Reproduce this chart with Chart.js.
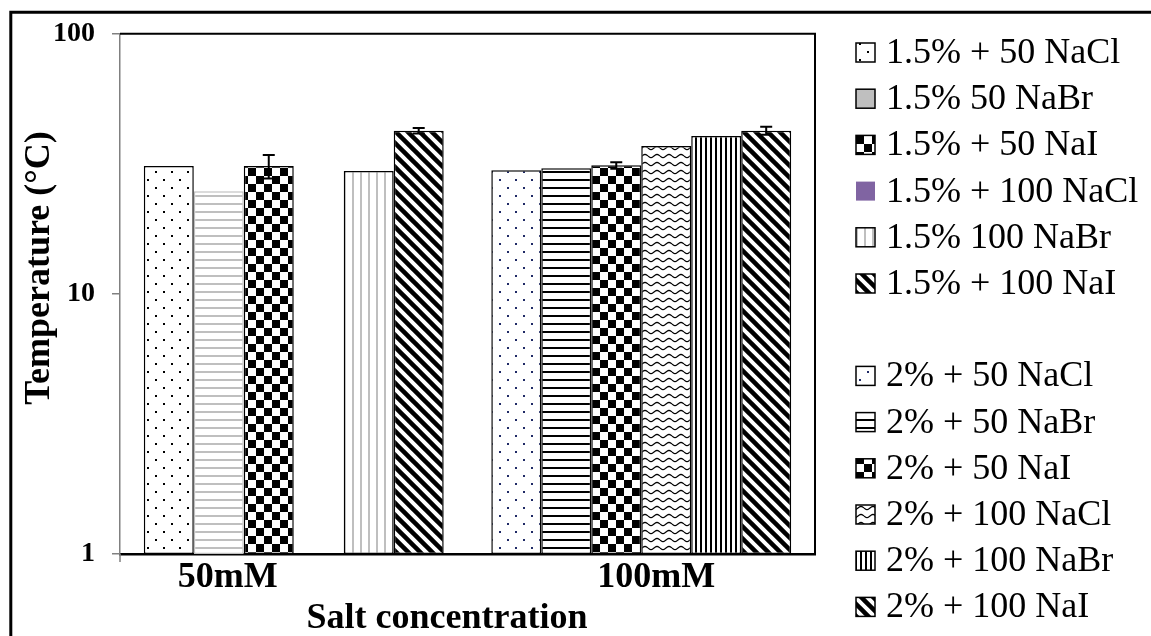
<!DOCTYPE html>
<html>
<head>
<meta charset="utf-8">
<script src="https://cdn.jsdelivr.net/npm/chart.js@4.4.1/dist/chart.umd.min.js"></script>
<style>
  html, body { margin: 0; padding: 0; background: #fff; }
</style>
</head>
<body>
<canvas id="chart" width="1151" height="636"></canvas>
<script>
// Melting temperature by salt concentration (log axis)
const categories = ['50mM', '100mM'];
const seriesNames = [
  '1.5% + 50 NaCl', '1.5% 50 NaBr', '1.5% + 50 NaI',
  '1.5% + 100 NaCl', '1.5% 100 NaBr', '1.5% + 100 NaI',
  '2% + 50 NaCl', '2% + 50 NaBr', '2% + 50 NaI',
  '2% + 100 NaCl', '2% + 100 NaBr', '2% + 100 NaI'
];
// 1.5% series sit in the 50mM group, 2% series in the 100mM group
const temp15 = [31.0, 24.8, 31.0, null, 29.7, 42.4];
const err15 = [0, 0, 3.2, 0, 0, 1.0];
const temp2 = [29.9, 30.4, 31.2, 37.0, 40.5, 42.4];
const err2 = [0, 0, 0.9, 0, 0, 1.5];
const yTicks = [1, 10, 100];
const xTitle = 'Salt concentration';
const yTitle = 'Temperature (°C)';

const SERIF = "'Liberation Serif', 'Times New Roman', serif";

function tile(w, h, draw) {
  const c = document.createElement('canvas');
  c.width = w; c.height = h;
  const g = c.getContext('2d');
  g.fillStyle = '#fff';
  g.fillRect(0, 0, w, h);
  draw(g);
  return g.createPattern(c, 'repeat');
}

const dots = (color) => tile(16, 16, g => {
  g.fillStyle = color;
  g.fillRect(3, 3, 2, 2);
  g.fillRect(11, 11, 2, 2);
});
const hLines = (color) => tile(8, 8, g => {
  g.fillStyle = color;
  g.fillRect(0, 3, 8, 2);
});
const vLines = (color, period, width) => tile(period, 8, g => {
  g.fillStyle = color;
  g.fillRect(0, 0, width, 8);
});
const checker = () => tile(16, 16, g => {
  g.fillStyle = '#000';
  g.fillRect(0, 0, 8, 8);
  g.fillRect(8, 8, 8, 8);
});
const diagonal = () => tile(12, 12, g => {
  g.strokeStyle = '#000';
  g.lineWidth = 4.5;
  g.lineCap = 'square';
  for (let k = -1; k <= 1; k++) {
    g.beginPath();
    g.moveTo(k * 12, 0);
    g.lineTo(k * 12 + 12, 12);
    g.stroke();
  }
});
const wave = () => tile(12, 8, g => {
  g.strokeStyle = '#000';
  g.lineWidth = 1.2;
  g.beginPath();
  for (let x = 0; x <= 12; x++) {
    const y = 4 + 1.6 * Math.sin(x / 12 * Math.PI * 2);
    if (x === 0) g.moveTo(x, y); else g.lineTo(x, y);
  }
  g.stroke();
});

const fills = [
  dots('#000'), hLines('#bfbfbf'), checker(),
  '#8064a2', vLines('#bfbfbf', 8, 2), diagonal(),
  dots('#1f2a66'), hLines('#000'), checker(),
  wave(), vLines('#000', 5, 2), diagonal()
];
const edges = ['#000', '#bfbfbf', '#000', '#8064a2', '#000', '#000',
               '#000', '#000', '#000', '#000', '#000', '#000'];
// legend swatches that differ from the bar fill
const swatchFill = { 1: '#bfbfbf' };
const swatchNoEdge = { 3: true };

const datasets = seriesNames.map((name, i) => {
  const first = i < 6;
  const k = i % 6;
  return {
    label: name,
    data: first ? [temp15[k], null] : [null, temp2[k]],
    errors: first ? [err15[k], 0] : [0, err2[k]],
    stack: 's' + k,
    backgroundColor: fills[i],
    borderColor: edges[i],
    borderWidth: 1.5,
    borderSkipped: false,
    categoryPercentage: 0.863,
    barPercentage: 1.0
  };
});

const errorBars = {
  id: 'errorBars',
  afterDatasetsDraw(chart) {
    const ctx = chart.ctx;
    const y = chart.scales.y;
    ctx.save();
    ctx.strokeStyle = '#000';
    ctx.lineWidth = 2;
    chart.data.datasets.forEach((ds, di) => {
      const meta = chart.getDatasetMeta(di);
      ds.data.forEach((v, idx) => {
        const e = ds.errors[idx];
        if (v == null || !e) return;
        const x = meta.data[idx].x;
        const top = y.getPixelForValue(v + e);
        const bot = y.getPixelForValue(v - e);
        ctx.beginPath();
        ctx.moveTo(x, top); ctx.lineTo(x, bot);
        ctx.moveTo(x - 6, top); ctx.lineTo(x + 6, top);
        ctx.moveTo(x - 6, bot); ctx.lineTo(x + 6, bot);
        ctx.stroke();
      });
    });
    ctx.restore();
  }
};

// category names, axis titles, plot frame, outer frame and the legend column
const decor = {
  id: 'decor',
  afterDraw(chart) {
    const ctx = chart.ctx;
    const a = chart.chartArea;
    const xs = chart.scales.x;
    ctx.save();

    ctx.strokeStyle = '#000';
    ctx.lineWidth = 2;
    ctx.beginPath();
    ctx.moveTo(a.left, a.top);
    ctx.lineTo(a.right, a.top);
    ctx.lineTo(a.right, a.bottom);
    ctx.stroke();

    ctx.strokeStyle = '#808080';
    ctx.lineWidth = 1.5;
    ctx.beginPath();
    ctx.moveTo(a.left, a.bottom);
    ctx.lineTo(a.left, a.bottom + 8);
    ctx.stroke();

    ctx.strokeStyle = '#000';
    ctx.lineWidth = 3;
    ctx.beginPath();
    ctx.moveTo(10.8, chart.height + 2);
    ctx.lineTo(10.8, 12.3);
    ctx.lineTo(chart.width + 2, 12.3);
    ctx.stroke();

    const labelShift = [-66, 15];
    ctx.fillStyle = '#000';
    ctx.font = 'bold 36px ' + SERIF;
    ctx.textAlign = 'center';
    ctx.textBaseline = 'alphabetic';
    categories.forEach((c, i) => {
      ctx.fillText(c, xs.getPixelForValue(i) + labelShift[i], 587);
    });
    ctx.fillText(xTitle, 447, 628);

    ctx.save();
    ctx.translate(40, 268);
    ctx.rotate(-Math.PI / 2);
    ctx.textBaseline = 'middle';
    ctx.fillText(yTitle, 0, 0);
    ctx.restore();

    ctx.font = '36px ' + SERIF;
    ctx.textAlign = 'left';
    chart.data.datasets.forEach((ds, i) => {
      const row = i < 6 ? i : i + 1;
      const cy = 52.5 + row * 46.2;
      const bx = 856, bs = 19;
      ctx.fillStyle = swatchFill[i] || ds.backgroundColor;
      ctx.fillRect(bx, cy - bs / 2, bs, bs);
      if (!swatchNoEdge[i]) {
        ctx.strokeStyle = '#000';
        ctx.lineWidth = 1.5;
        ctx.strokeRect(bx, cy - bs / 2, bs, bs);
      }
      ctx.fillStyle = '#000';
      ctx.fillText(ds.label, 886, cy + 10.5);
    });
    ctx.restore();
  }
};

new Chart(document.getElementById('chart'), {
  type: 'bar',
  data: { labels: categories, datasets },
  options: {
    responsive: false,
    animation: false,
    layout: { padding: { top: 33, right: 336, left: 0, bottom: 0 } },
    plugins: {
      legend: { display: false },
      tooltip: { enabled: false }
    },
    scales: {
      x: {
        z: 1,
        grid: { display: false },
        border: { color: '#000', width: 2.5 },
        ticks: { display: false },
        afterFit(scale) { scale.height = 82; }
      },
      y: {
        type: 'logarithmic',
        min: 1,
        max: 100,
        afterBuildTicks(axis) { axis.ticks = yTicks.map(v => ({ value: v })); },
        grid: { drawOnChartArea: false, drawTicks: true, tickLength: 8, color: '#808080', lineWidth: 1.5 },
        border: { color: '#808080', width: 1.5 },
        ticks: {
          color: '#000',
          padding: 17,
          font: { family: SERIF, size: 28, weight: 'bold' },
          callback: (v) => String(v)
        },
        afterFit(scale) { scale.width = 120; }
      }
    }
  },
  plugins: [errorBars, decor]
});
</script>
</body>
</html>
